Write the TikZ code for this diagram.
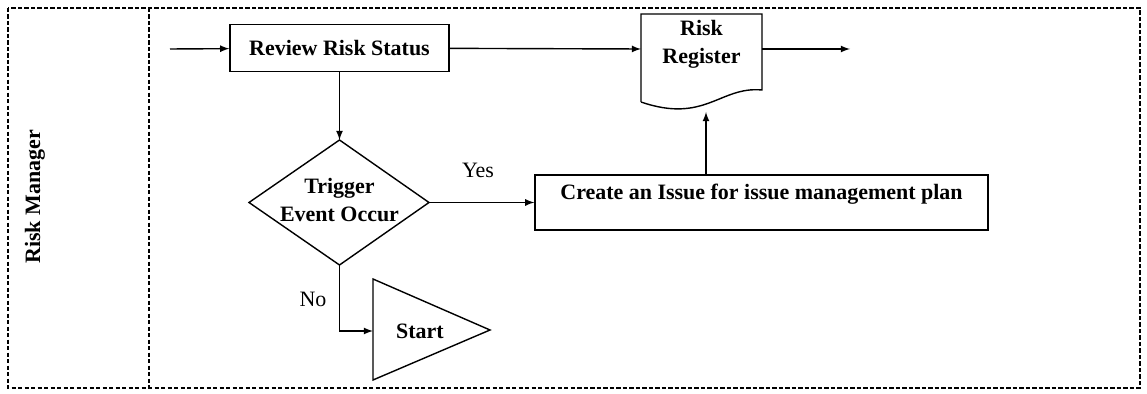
\documentclass[tikz,border=0pt]{standalone}
\usepackage{fontspec}
\setmainfont{Liberation Serif}
\usepackage{tikz}
\usetikzlibrary{arrows}

\tikzset{
  box/.style={draw, line width=0.8pt, font=\fontsize{12.5}{16}\selectfont\bfseries, inner sep=0pt},
  lane/.style={line width=0.6pt, dash pattern=on 2.5pt off 1.2pt},
  flow/.style={->, >=latex, line width=0.8pt}
}

\begin{document}
\begin{tikzpicture}[x=0.02cm, y=-0.02cm, font=\fontsize{12.5}{16}\selectfont]
  \useasboundingbox (0,0) rectangle (1147,394);
  % swimlane
  \draw[lane] (8,8) rectangle (1140,388);
  \draw[lane] (149,8) -- (149,388);
  \node[rotate=90, font=\fontsize{12.5}{16}\selectfont\bfseries] (lane) at (35,197) {Risk Manager};

  \node[box, minimum width=4.38cm, minimum height=0.94cm] (review) at (339.5,48) {Review Risk Status};
  % register (document shape)
  \node[box, draw=none, align=center] (reg) at (701.5,44) {Risk\\Register};
  \draw[line width=0.8pt] (641,102) -- (641,14) -- (762,14) -- (762,90)
    .. controls (720,86) and (705,124) .. (641,102);
  % decision
  \node[box, draw=none, align=center] (trig) at (339.5,200) {Trigger\\Event Occur};
  \draw[line width=0.8pt] (339.5,140) coordinate (trig-n) -- (429,202.5) coordinate (trig-e)
    -- (339.5,265) coordinate (trig-s) -- (249,202.5) -- cycle;
  \node[box, minimum width=9.06cm, text height=0.35cm, text depth=0.45cm, inner ysep=0.15cm] (issue) at (761.5,202.5) {Create an Issue for issue management plan};
  \draw[line width=0.8pt] (373,279) -- (490,330) -- (373,380) -- cycle;
  \node[box, draw=none] (start) at (420,331) {Start};

  \coordinate (in) at (170,49);
  \coordinate (out) at (850,49);
  \coordinate (reg-w) at (641,49);
  \coordinate (reg-e) at (762,49);
  \coordinate (reg-in) at (706,112);
  \coordinate (no) at (339.5,331);
  \coordinate (start-l) at (373,331);

  \path[flow]
  (in) edge (review)
  (review) edge (reg-w)
  (reg-e) edge (out)
  (review) edge (trig-n)
  (trig-e) edge (issue)
  (issue.north -| reg-in) edge (reg-in);
  \draw[flow] (trig-s) -- (no) -- (start-l);
  \node (yes-lbl) at (478,170) {Yes};
  \node (no-lbl) at (313,299) {No};
\end{tikzpicture}
\end{document}
